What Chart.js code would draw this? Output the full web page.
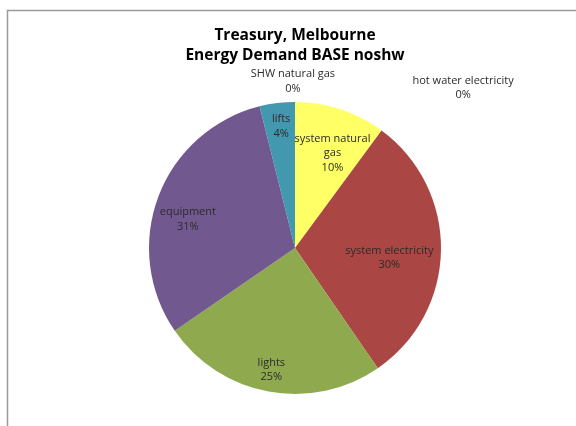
<!DOCTYPE html>
<html>
<head>
<meta charset="utf-8">
<script src="https://cdn.jsdelivr.net/npm/chart.js@4.4.1/dist/chart.umd.min.js"></script>
<style>
  html, body { margin: 0; padding: 0; background: #fff; }
  #wrap { width: 576px; height: 426px; position: relative; }
</style>
</head>
<body>
<div id="wrap"><canvas id="pieChart" width="576" height="426"></canvas></div>
<script>
const titleLines = ['Treasury, Melbourne', 'Energy Demand BASE noshw'];
const categories = ['system natural gas', 'system electricity', 'lights', 'equipment', 'lifts', 'SHW natural gas', 'hot water electricity'];
const shares = [10.1, 30.3, 25.0, 30.7, 3.9, 0, 0];
const sliceColors = ['#ffff66', '#aa4643', '#8fa94f', '#71588f', '#4198af', '#e07b39', '#4f81bd'];
// label placement: [angle from 12 o'clock in degrees, distance as fraction of radius]
const labelPlaces = [[21.5, 0.70], [96, 0.65], [191, 0.85], [285, 0.76], [353.5, 0.84], [359.3, 1.14], [46.4, 1.59]];
const labelLines = [['system natural', 'gas'], ['system electricity'], ['lights'], ['equipment'], ['lifts'], ['SHW natural gas'], ['hot water electricity']];

const FONT = '"Open Sans", "Liberation Sans", sans-serif';

const extras = {
  id: 'extras',
  beforeDraw(chart) {
    const ctx = chart.ctx;
    ctx.save();
    ctx.fillStyle = '#fff';
    ctx.fillRect(0, 0, chart.width, chart.height);
    ctx.strokeStyle = '#9a9a9a';
    ctx.lineWidth = 1.5;
    ctx.beginPath();
    ctx.moveTo(7.5, chart.height + 2);
    ctx.lineTo(7.5, 10.5);
    ctx.lineTo(chart.width + 2, 10.5);
    ctx.stroke();
    ctx.restore();
  },
  afterDraw(chart) {
    const ctx = chart.ctx;
    const arc = chart.getDatasetMeta(0).data[0];
    const cx = arc.x, cy = arc.y, r = arc.outerRadius;
    const total = shares.reduce((a, b) => a + b, 0);
    ctx.save();
    ctx.textAlign = 'center';
    ctx.textBaseline = 'middle';
    ctx.fillStyle = '#000';
    ctx.font = 'bold 15.5px ' + FONT;
    ctx.fillText(titleLines[0], 295, 36);
    ctx.fillText(titleLines[1], 295, 56);

    ctx.font = '11px ' + FONT;
    ctx.fillStyle = '#2b2b2b';
    labelPlaces.forEach(([deg, frac], i) => {
      const a = deg * Math.PI / 180;
      const x = cx + Math.sin(a) * r * frac;
      const y = cy - Math.cos(a) * r * frac;
      const lines = labelLines[i].concat([Math.round(shares[i] / total * 100) + '%']);
      const lh = 14.5;
      const y0 = y - (lines.length - 1) * lh / 2;
      lines.forEach((t, k) => ctx.fillText(t, x, y0 + k * lh));
    });
    ctx.restore();
  }
};

new Chart(document.getElementById('pieChart'), {
  type: 'pie',
  data: {
    labels: categories,
    datasets: [{
      data: shares,
      backgroundColor: sliceColors,
      borderWidth: 0
    }]
  },
  options: {
    responsive: false,
    animation: false,
    layout: { padding: { left: 149, right: 135, top: 102, bottom: 32 } },
    plugins: {
      legend: { display: false },
      tooltip: { enabled: false },
      title: { display: false }
    }
  },
  plugins: [extras]
});
</script>
</body>
</html>
